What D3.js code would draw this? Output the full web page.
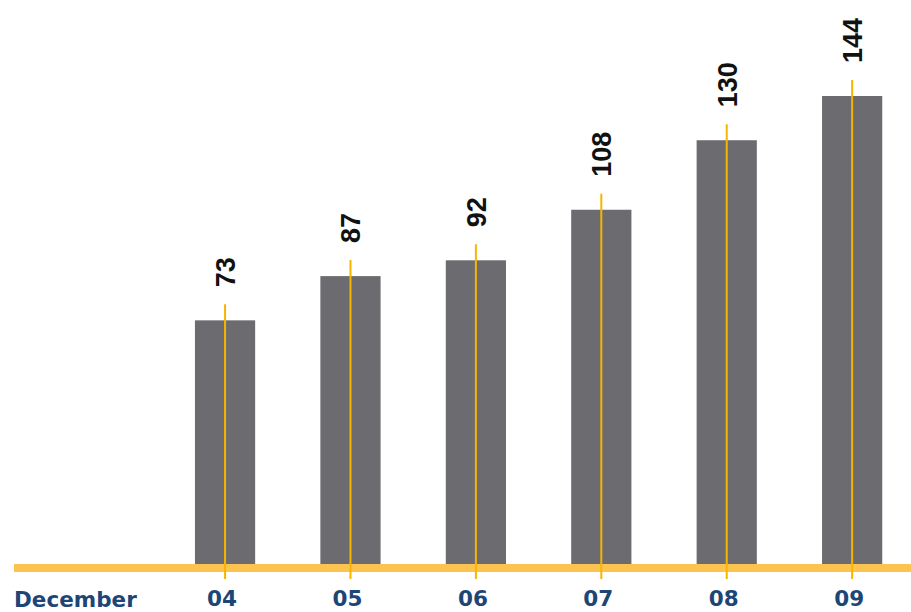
<!DOCTYPE html>
<html>
<head>
<meta charset="utf-8">
<script src="https://cdn.jsdelivr.net/npm/d3@7"></script>
<style>
  html, body { margin: 0; padding: 0; background: #ffffff; }
  svg { display: block; }
</style>
</head>
<body>
<svg id="chart" width="911" height="612"></svg>
<script>
const categories = ["04", "05", "06", "07", "08", "09"];
const values = [73, 87, 92, 108, 130, 144];
const axisTitle = "December";

const W = 911, H = 612;
const baseY = 564;
const svg = d3.select("#chart");

const x = d3.scaleBand()
  .domain(categories)
  .range([163.6, 913.6])
  .paddingInner(0.52)
  .paddingOuter(0.25);

const y = d3.scaleLinear()
  .domain([0, 144])
  .range([551, 96]);

const data = categories.map((c, i) => ({ c, v: values[i] }));

// bars
svg.append("g").selectAll("rect").data(data).join("rect")
  .attr("x", d => x(d.c))
  .attr("y", d => y(d.v))
  .attr("width", x.bandwidth())
  .attr("height", d => baseY - y(d.v))
  .attr("fill", "#6b6b70");

// baseline
svg.append("rect")
  .attr("x", 14).attr("y", baseY)
  .attr("width", W - 14).attr("height", 8)
  .attr("fill", "#fdc350");

// vertical marker lines
svg.append("g").selectAll("line").data(data).join("line")
  .attr("x1", d => x(d.c) + x.bandwidth() / 2)
  .attr("x2", d => x(d.c) + x.bandwidth() / 2)
  .attr("y1", d => y(d.v) - 16)
  .attr("y2", 579)
  .attr("stroke", "#f7b500")
  .attr("stroke-width", 2);

// value labels (rotated)
svg.append("g").selectAll("text").data(data).join("text")
  .attr("transform", d => `translate(${x(d.c) + x.bandwidth() / 2 + 10},${y(d.v) - 33}) rotate(-90)`)
  .attr("text-anchor", "start")
  .attr("font-family", "'Liberation Sans', Arial, sans-serif")
  .attr("font-weight", "bold")
  .attr("font-size", 27)
  .attr("fill", "#111111")
  .text(d => d.v);

// x axis
const axis = svg.append("g")
  .attr("transform", `translate(-3,${baseY + 8})`)
  .call(d3.axisBottom(x).tickSize(0).tickPadding(19));
axis.select(".domain").remove();
axis.selectAll("text")
  .attr("font-family", "'DejaVu Sans', sans-serif")
  .attr("font-weight", "bold")
  .attr("font-size", 21.5)
  .attr("fill", "#1d4677");

svg.append("text")
  .attr("x", 14)
  .attr("y", 607)
  .attr("font-family", "'DejaVu Sans', sans-serif")
  .attr("font-weight", "bold")
  .attr("font-size", 21.5)
  .attr("fill", "#1d4677")
  .text(axisTitle);
</script>
</body>
</html>
